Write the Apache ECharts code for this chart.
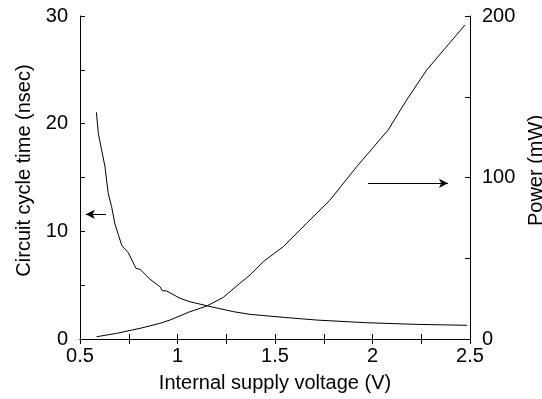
<!DOCTYPE html>
<html><head><meta charset="utf-8">
<script src="https://cdn.jsdelivr.net/npm/echarts@6/dist/echarts.min.js"></script>
<style>html,body{margin:0;padding:0;background:#fff}#c{width:542px;height:399px}</style>
</head><body><div id="c"></div>
<script>
const cycleV = [0.584,0.594,0.628,0.645,0.662,0.679,0.714,0.748,0.787,0.808,0.859,0.91,0.922,0.944,1.013,1.064,1.15,1.286,1.372,1.543,1.714,1.97,2.227,2.485];
const cycleT = [21.05,19.1,16.0,13.5,12.3,10.7,8.7,8.0,6.56,6.47,5.55,4.86,4.49,4.46,3.78,3.46,3.09,2.54,2.29,2.01,1.76,1.51,1.36,1.27];
const powerV = [0.585,0.688,0.808,0.91,0.962,1.064,1.15,1.235,1.32,1.372,1.44,1.543,1.662,1.782,1.919,2.08,2.175,2.278,2.474];
const powerP = [1.4,3.5,6.6,9.7,11.8,16.9,20.4,25.8,34.5,39.6,47.9,57.2,71.6,86,106.7,129.4,148,166.6,194.4];
const arrowLeft = {from:[0.633,11.58], to:[0.53,11.58]};
const arrowRight = {from:[1.977,96.4], to:[2.387,96.4]};

const font = 'Liberation Sans, Arial, Helvetica, sans-serif';
const chart = echarts.init(document.getElementById('c'));
const axLine = {show:true, lineStyle:{color:'#000', width:1}};
const tick = {show:true, inside:true, length:5, lineStyle:{color:'#000'}};
const minor = {show:true, splitNumber:2, length:5, lineStyle:{color:'#000'}};
const fs = 20;
chart.setOption({
  animation:false,
  textStyle:{fontFamily:font},
  grid:{left:80, right:72, top:16, bottom:60, containLabel:false, outerBoundsMode:'none'},
  xAxis:[{
    type:'value', min:0.5, max:2.5, interval:0.5, position:'bottom',
    name:'Internal supply voltage (V)', nameLocation:'middle', nameGap:34,
    nameTextStyle:{fontSize:fs, color:'#000', fontFamily:font},
    axisLine:axLine, axisTick:tick, minorTick:minor, splitLine:{show:false},
    axisLabel:{fontSize:fs, color:'#000', margin:7, fontFamily:font}
  },{
    type:'value', min:0.5, max:2.5, interval:0.5, position:'top',
    axisLine:axLine, axisTick:tick, minorTick:minor, splitLine:{show:false},
    axisLabel:{show:false}
  }],
  yAxis:[{
    type:'value', min:0, max:30, interval:10, position:'left',
    name:'Circuit cycle time (nsec)', nameLocation:'middle', nameGap:44,
    nameTextStyle:{fontSize:fs, color:'#000', fontFamily:font, padding:[0,0,0,14]},
    axisLine:axLine, axisTick:tick, minorTick:minor, splitLine:{show:false},
    axisLabel:{fontSize:fs, color:'#000', margin:12, fontFamily:font}
  },{
    type:'value', min:0, max:200, interval:100, position:'right',
    name:'Power (mW)', nameLocation:'middle', nameGap:43,
    nameTextStyle:{fontSize:fs, color:'#000', fontFamily:font, padding:[0,0,0,14]},
    axisLine:axLine, axisTick:tick, minorTick:minor, splitLine:{show:false},
    axisLabel:{fontSize:fs, color:'#000', margin:12, fontFamily:font}
  }],
  series:[{
    type:'line', xAxisIndex:0, yAxisIndex:0, showSymbol:false, symbol:'none',
    lineStyle:{color:'#000', width:1},
    data: cycleV.map((v,i)=>[v,cycleT[i]]),
    markLine:{silent:true, symbol:['none','arrow'], symbolSize:[7,9],
      lineStyle:{color:'#000', width:1, type:'solid'}, label:{show:false},
      data:[[{coord:arrowLeft.from},{coord:arrowLeft.to}]]}
  },{
    type:'line', xAxisIndex:0, yAxisIndex:1, showSymbol:false, symbol:'none',
    lineStyle:{color:'#000', width:1},
    data: powerV.map((v,i)=>[v,powerP[i]]),
    markLine:{silent:true, symbol:['none','arrow'], symbolSize:[7,9],
      lineStyle:{color:'#000', width:1, type:'solid'}, label:{show:false},
      data:[[{coord:arrowRight.from},{coord:arrowRight.to}]]}
  }]
});
</script></body></html>
